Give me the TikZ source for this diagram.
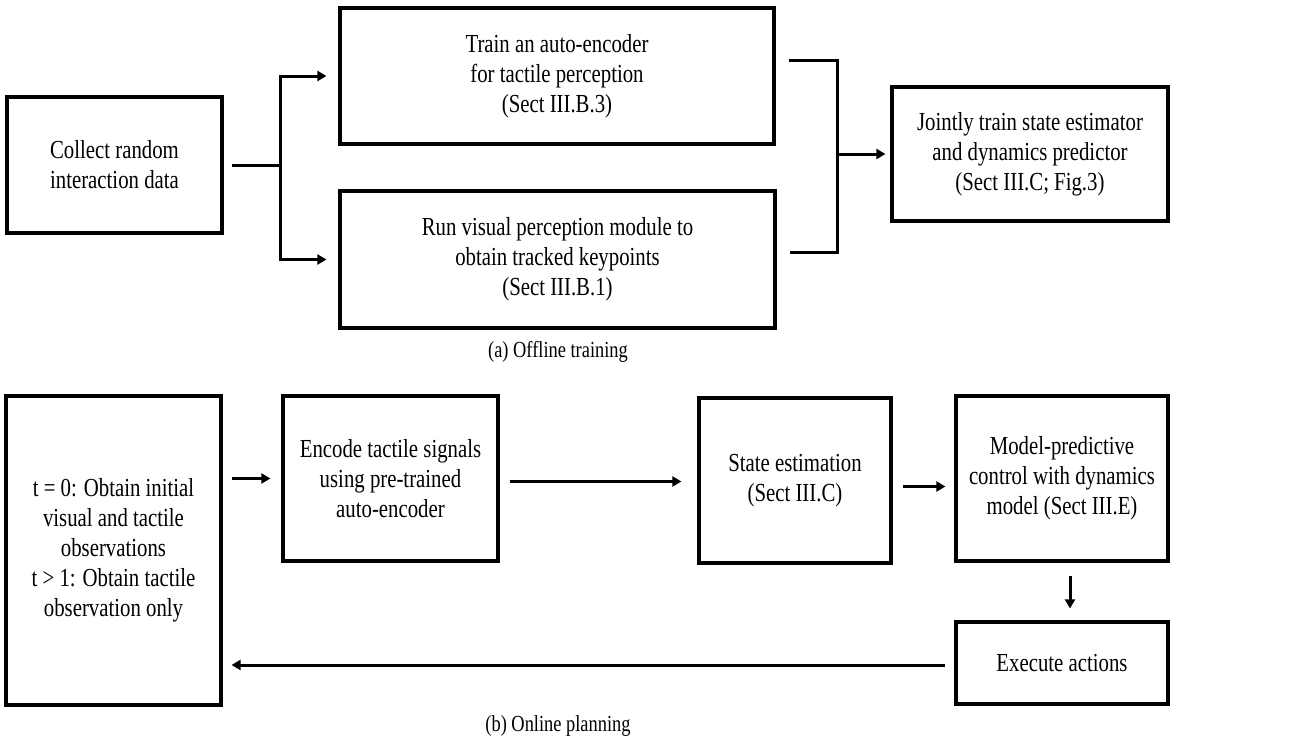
\documentclass[tikz,border=0pt]{standalone}
\usepackage{fontspec}
\setmainfont{Liberation Serif}[FakeStretch=0.8]
\usetikzlibrary{arrows.meta}
\tikzset{
  blk/.style={draw, line width=3.2pt, rectangle, align=center, inner sep=0pt,
    font=\fontsize{26pt}{30pt}\selectfont},
  conn/.style={line width=3pt},
  arr/.style={conn, -{Triangle[length=9pt,width=10pt]}},
  captext/.style={font=\fontsize{23pt}{26pt}\selectfont, inner sep=0pt}
}
\begin{document}
\begin{tikzpicture}[x=1pt,y=-1pt]
\useasboundingbox (0,0) rectangle (1315,742);
% (a) offline training
\node[blk, minimum width=215pt, minimum height=136pt] (collect) at (114.5,165) {Collect random\\interaction data};
\node[blk, minimum width=434pt, minimum height=136pt] (train) at (557,76) {Train an auto-encoder\\for tactile perception\\(Sect III.B.3)};
\node[blk, minimum width=435pt, minimum height=137pt] (run) at (557.5,259.5) {Run visual perception module to\\obtain tracked keypoints\\(Sect III.B.1)};
\node[blk, minimum width=276pt, minimum height=134pt] (joint) at (1030,154) {Jointly train state estimator\\and dynamics predictor\\(Sect III.C; Fig.3)};
\node[captext] (capa) at (558,352) {(a) Offline training};

\coordinate (split) at (280,165);
\coordinate (merge) at (837,154);
\draw[conn] ([xshift=8pt]collect.east) -- (split);
\draw[arr, shorten >=12pt] (split) |- (train.west);
\draw[arr, shorten >=12pt] (split) |- (run.west);
\draw[conn] ([shift={(13pt,16pt)}]train.east) -| (merge) |- ([shift={(13pt,7.5pt)}]run.east);
\draw[arr, shorten >=5pt] (merge) -- (joint.west);

% (b) online planning
\node[blk, minimum width=215pt, minimum height=309pt] (obs) at (113.5,550.5) {t = 0: Obtain initial\\visual and tactile\\observations\\t > 1: Obtain tactile\\observation only};
\node[blk, minimum width=215pt, minimum height=165pt] (enc) at (390.5,478.5) {Encode tactile signals\\using pre-trained\\auto-encoder};
\node[blk, minimum width=192pt, minimum height=165pt] (state) at (795,480.5) {State estimation\\(Sect III.C)};
\node[blk, minimum width=212pt, minimum height=165pt] (mpc) at (1062,478.5) {Model-predictive\\control with dynamics\\model (Sect III.E)};
\node[blk, minimum width=212pt, minimum height=82pt] (exec) at (1062,663) {Execute actions};
\node[captext] (capb) at (558,726) {(b) Online planning};

\draw[arr, shorten <=9pt, shorten >=11pt] (obs.east |- enc.west) -- (enc.west);
\draw[arr, shorten <=10pt, shorten >=16pt] ([yshift=-3pt]enc.east) -- ([yshift=-3pt]enc.east -| state.west);
\draw[arr, shorten <=10pt, shorten >=9pt] ([yshift=-6pt]state.east) -- ([yshift=-6pt]state.east -| mpc.west);
\draw[arr, shorten <=13pt, shorten >=12pt] ([xshift=8pt]mpc.south) -- ([xshift=8pt]exec.north);
\draw[arr, shorten <=9pt, shorten >=9pt] ([yshift=-2pt]exec.west) -- ([yshift=-2pt]exec.west -| obs.east);
\end{tikzpicture}
\end{document}
